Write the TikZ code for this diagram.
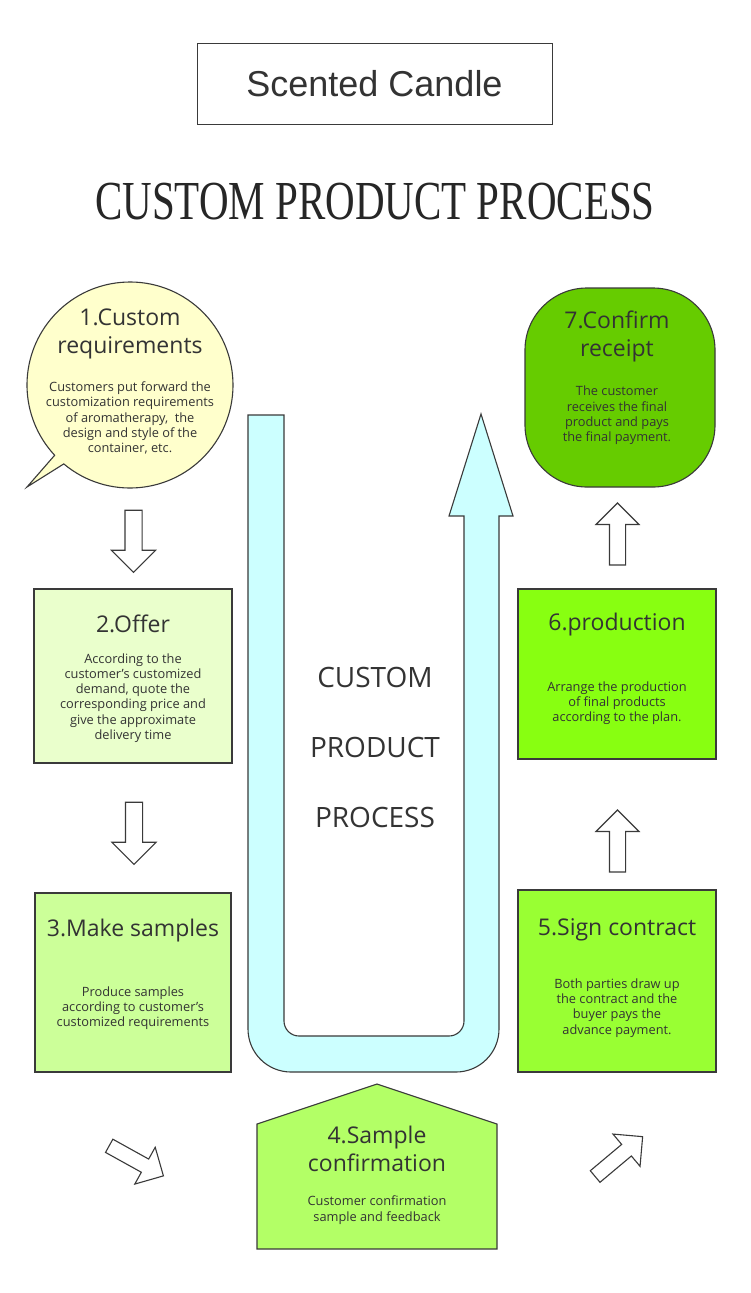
\documentclass[tikz,border=0pt]{standalone}
\usepackage{fontspec}
\setmainfont{Open Sans}
\newfontfamily\headfont{Liberation Sans}
\newfontfamily\bigfont{Liberation Serif}
\usetikzlibrary{shapes.arrows,calc}
\definecolor{inkgray}{HTML}{333333}
\definecolor{edgegray}{HTML}{3A3A3A}
\definecolor{bubblefill}{HTML}{FFFFCC}
\definecolor{offerfill}{HTML}{EAFFCC}
\definecolor{samplefill}{HTML}{CCFF99}
\definecolor{confirmfill}{HTML}{B3FF66}
\definecolor{contractfill}{HTML}{99FF33}
\definecolor{productionfill}{HTML}{88FF11}
\definecolor{receiptfill}{HTML}{66CC00}
\definecolor{uturnfill}{HTML}{CCFFFF}
\tikzset{
  stepbox/.style={draw=edgegray, line width=1.1pt, minimum width=198pt},
  steptitle/.style={text=inkgray, font=\fontsize{23}{28}\selectfont, align=center},
  stepbody/.style={text=inkgray, font=\fontsize{12.8}{15.3}\selectfont, align=center},
  hollowarrow/.style={single arrow, draw=edgegray, fill=white, line width=1.1pt, inner xsep=0pt, inner ysep=8pt, minimum height=62pt, single arrow head extend=13.5pt}
}
\begin{document}
\begin{tikzpicture}[x=1pt,y=-1pt]
\useasboundingbox (0,0) rectangle (750,1293);
\fill[white] (0,0) rectangle (750,1293);
\node[draw=edgegray, line width=0.9pt, minimum width=355pt, minimum height=81pt, text=inkgray, font=\headfont\fontsize{36}{40}\selectfont] (namebox) at (374.5,83.5) {\raisebox{-2pt}{Scented Candle}};
\node[text=black!85, font=\bigfont\fontsize{55}{60}\selectfont] (bigtitle) at (375,202) {\scalebox{0.745}[1]{CUSTOM PRODUCT PROCESS}};
\filldraw[fill=bubblefill, draw=edgegray, line width=1.1pt] (130,385) ++(137:103) coordinate (tailA) -- (27,487) coordinate (tailtip) -- ($(130,385)+(130:103)$) arc[start angle=130, end angle=-223, radius=103] -- cycle;
\filldraw[fill=uturnfill, draw=edgegray, line width=1.1pt] (248,415) -- (284,415) -- (284,1021) arc[start angle=180, end angle=90, radius=15] -- (449,1036) arc[start angle=90, end angle=0, radius=15] -- (464,516) -- (449,516) -- (481,414) -- (513,516) -- (499,516) -- (499,1029) arc[start angle=0, end angle=90, radius=43] -- (291,1072) arc[start angle=90, end angle=180, radius=43] -- cycle;
\node[text=inkgray, align=center, font=\fontsize{28}{70}\selectfont] (midtext) at (375,747) {CUSTOM\\PRODUCT\\PROCESS};
\node[steptitle] (t1) at (130,334) {1.Custom\\requirements};
\node[stepbody] (b1) at (130,418) {Customers put forward the\\customization requirements\\of aromatherapy,\ \ the\\design and style of the\\container, etc.};
\node[stepbox, fill=offerfill, minimum height=174pt] (s2) at (133,676) {};
\node[steptitle] (t2) at (133,624) {2.Offer};
\node[stepbody] (b2) at (133,698) {According to the\\customer's customized\\demand, quote the\\corresponding price and\\give the approximate\\delivery time};
\node[stepbox, fill=samplefill, minimum width=196pt, minimum height=179pt] (s3) at (133,982.5) {};
\node[steptitle] (t3) at (133,931) {3.Make samples};
\node[stepbody] (b3) at (133,1008) {Produce samples\\according to customer's\\customized requirements};
\filldraw[fill=confirmfill, draw=edgegray, line width=1.1pt] (377,1084) coordinate (roof) -- (497,1124) -- (497,1249) -- (257,1249) -- (257,1124) -- cycle;
\node[steptitle] (t4) at (377,1149) {4.Sample\\confirmation};
\node[stepbody] (b4) at (377,1210) {Customer confirmation\\sample and feedback};
\node[stepbox, fill=contractfill, minimum height=182pt] (s5) at (617,981) {};
\node[steptitle] (t5) at (617,930) {5.Sign contract};
\node[stepbody] (b5) at (617,1008) {Both parties draw up\\the contract and the\\buyer pays the\\advance payment.};
\node[stepbox, fill=productionfill, minimum height=170pt] (s6) at (617,674) {};
\node[steptitle] (t6) at (617,625) {6.production};
\node[stepbody] (b6) at (617,703) {Arrange the production\\of final products\\according to the plan.};
\node[draw=edgegray, line width=1.1pt, fill=receiptfill, rounded corners=62pt, minimum width=190pt, minimum height=199pt] (s7) at (620,387.5) {};
\node[steptitle] (t7) at (617,336) {7.Confirm\\receipt};
\node[stepbody] (b7) at (617,415.5) {The customer\\receives the final\\product and pays\\the final payment.};
\node[hollowarrow, rotate=-90] (a12) at (133.5,537) {};
\node[hollowarrow, rotate=-90] (a23) at (134,829) {};
\node[hollowarrow, rotate=-29, inner ysep=7pt] (a34) at (133,1159) {};
\node[hollowarrow, rotate=40, inner ysep=7pt] (a45) at (616,1159) {};
\node[hollowarrow, rotate=90, inner ysep=7.5pt] (a56) at (617.5,845) {};
\node[hollowarrow, rotate=90, inner ysep=7.5pt] (a67) at (617.5,538) {};
\end{tikzpicture}
\end{document}
